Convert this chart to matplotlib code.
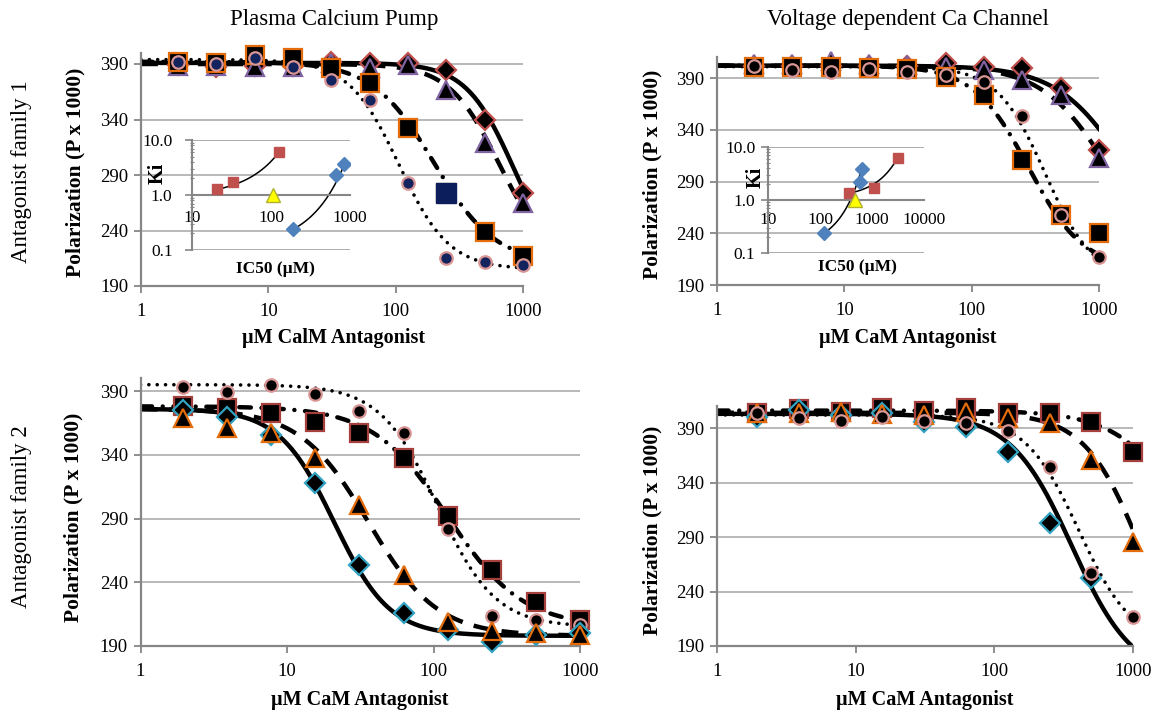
import numpy as np
import matplotlib.pyplot as plt
from matplotlib.ticker import LogLocator, NullFormatter, NullLocator

plt.rcParams['font.family'] = ['Liberation Serif', 'DejaVu Serif']

W, H = 1153, 712

# -------- DATA --------
conc = [1.95, 3.9, 7.8, 15.6, 31.25, 62.5, 125, 250, 500, 1000]

# family 1, plasma calcium pump
pmca1_diamond = [389, 387, 388, 388, 392, 391, 391, 385, 340, 273.5]
pmca1_triangle = [388, 388, 387.5, 387, 391, 386, 389, 367, 319, 265]
pmca1_square = [392, 391, 398, 395, 386, 372.6, 332, 273.6, 239, 217]
pmca1_circle = [392, 390, 395, 387.6, 375.6, 357.6, 282.5, 215, 212, 209]
pmca1_outlier = 7  # index of the odd navy square
# fit curves: top, bottom, IC50, hill slope
pmca1_fits = [(391, 200, 850, 2.3), (390, 210, 650, 2.2),
              (392, 210, 200, 1.8), (394, 205, 106, 2.2)]

# family 1, voltage dependent Ca channel
vdcc1_diamond = [402, 402, 402, 402, 402, 404.8, 401, 400, 380, 320]
vdcc1_triangle = [404, 404, 406, 404, 403, 401, 397.7, 388, 373.6, 312.4]
vdcc1_square = [401, 401, 400.8, 400, 399, 391, 373.6, 310.8, 257.6, 240]
vdcc1_circle = [401.6, 397.7, 396, 399, 396, 393, 386.5, 353, 257.6, 217.3]
vdcc1_fits = [(402, 200, 1686, 1.6), (402, 200, 1213, 1.66),
              (402, 205, 280, 2.0), (401, 195, 377, 2.3)]

# family 2, plasma calcium pump
pmca2_circle = [393.4, 389.5, 394.7, 387.6, 374.6, 357.3, 281.5, 213.5, 210.4, 206.5]
pmca2_square = [378, 376.4, 372.5, 366, 356.8, 337.2, 292, 249.6, 224.2, 210.4]
pmca2_diamond = [375, 370, 355.5, 317.6, 253.5, 215.6, 202.5, 193.4, 198.6, 200]
pmca2_triangle = [368.6, 360.7, 356.8, 337.2, 300.6, 245.7, 209, 201.8, 200, 198.6]
pmca2_fits = [(376, 198, 21, 2.3), (376, 198, 36, 1.85),
              (378, 205, 125, 1.7), (395, 205, 106.6, 2.2)]

# family 2, voltage dependent Ca channel
vdcc2_square = [403.5, 407, 405, 408, 405.9, 408, 404, 404, 395.2, 367.7]
vdcc2_triangle = [404, 404, 405, 403, 402, 405, 399, 394.3, 360.6, 285.7]
vdcc2_diamond = [400.4, 406.5, 402, 403.5, 395.8, 391, 368.3, 302.6, 252]
vdcc2_circle = [404, 399, 396.7, 400.4, 396.7, 394.3, 387.6, 353.9, 257.2, 217]
vdcc2_fits = [(403, 160, 363, 1.97), (404, 150, 1161, 2.1),
              (406, 200, 2660, 1.7), (402, 190, 407, 2.22)]

# insets: Ki vs IC50
ins1_red_x, ins1_red_y = [20.5, 32.7, 126], [1.27, 1.70, 6.0]
ins1_blue_x, ins1_blue_y = [192, 660, 850], [0.24, 2.31, 3.66]
ins1_tri_x, ins1_tri_y = [107], [1.0]
ins1_red_trend = (0.93, 0.0148, 20.5, 126)   # a, b, x from, x to (y = a*exp(b*x))
ins1_blue_trend = (0.108, 0.00414, 192, 800)

ins2_red_x, ins2_red_y = [363, 1100, 3100], [1.34, 1.67, 6.2]
ins2_blue_x, ins2_blue_y = [121, 600, 630], [0.24, 2.22, 3.83]
ins2_tri_x, ins2_tri_y = [470], [1.0]
ins2_red_trend = (1.094, 0.00056, 363, 3100)
ins2_blue_trend = (0.124, 0.00544, 121, 630)

GRID = '#a6a6a6'
AXC = '#868686'


def hill(x, top, bottom, ic50, slope):
    return bottom + (top - bottom) / (1 + (x / ic50) ** slope)


def px_axes(x0, x1, ytop, ybot):
    return fig.add_axes([x0 / W, 1 - ybot / H, (x1 - x0) / W, (ybot - ytop) / H])


def ftext(x, y, s, **kw):
    fig.text(x / W, 1 - y / H, s, ha='center', va='center', **kw)


def setup_main(ax, ytop):
    ax.set_xscale('log')
    ax.set_xlim(1, 1000)
    ax.set_ylim(190, ytop)
    ax.set_yticks([190, 240, 290, 340, 390])
    ax.set_xticks([1, 10, 100, 1000])
    ax.set_xticklabels(['1', '10', '100', '1000'])
    ax.xaxis.set_minor_locator(NullLocator())
    ax.grid(axis='y', color=GRID, lw=1.1)
    ax.set_axisbelow(True)
    for s in ['top', 'right']:
        ax.spines[s].set_visible(False)
    for s in ['left', 'bottom']:
        ax.spines[s].set_color(AXC)
        ax.spines[s].set_linewidth(1.6)
    ax.tick_params(axis='y', colors='black', color=AXC, length=5, width=1.3, labelsize=13.5, pad=4)
    ax.tick_params(axis='x', colors='black', color=AXC, length=5, width=1.3, labelsize=13.5, pad=7)


line_styles = [
    dict(ls='-', lw=3.2),
    dict(ls=(0, (3.8, 2.6)), lw=3.2),
    dict(ls=(0, (2.6, 2.4, 0.01, 2.4)), lw=3.2, dash_capstyle='round'),
    dict(ls=(0, (0.01, 2.3)), lw=2.6, dash_capstyle='round'),
]


def draw_fits(ax, fits):
    xs = np.logspace(0, 3, 300)
    for p, st in zip(fits, line_styles):
        ax.plot(xs, hill(xs, *p), color='black', zorder=2, **st)


def markers(ax, x, y, m, ms, fc, ec, z):
    ax.plot(x, y, ls='none', marker=m, ms=ms, mfc=fc, mec=ec, mew=1.6,
            clip_on=False, zorder=z)


def setup_inset(ax, xmax, xticks, xlabels, ypad, xpad):
    ax.patch.set_visible(False)
    ax.set_xscale('log')
    ax.set_yscale('log')
    ax.set_xlim(10, xmax)
    ax.set_ylim(0.1, 10)
    ax.set_xticks(xticks)
    ax.set_xticklabels(xlabels)
    ax.xaxis.set_minor_locator(NullLocator())
    ax.set_yticks([0.1, 1, 10])
    ax.set_yticklabels(['0.1', '1.0', '10.0'])
    ax.yaxis.set_minor_locator(LogLocator(subs=np.arange(2, 10)))
    ax.yaxis.set_minor_formatter(NullFormatter())
    ax.grid(axis='y', which='major', color=GRID, lw=1.3)
    for s in ['top', 'right']:
        ax.spines[s].set_visible(False)
    ax.spines['bottom'].set_position(('data', 1))
    ax.spines['bottom'].set_color(AXC)
    ax.spines['bottom'].set_linewidth(1.5)
    ax.spines['left'].set_color(AXC)
    ax.spines['left'].set_linewidth(1.5)
    ax.tick_params(axis='x', length=0, labelsize=12.5, pad=xpad)
    ax.tick_params(axis='y', which='major', color=AXC, length=5, width=1.2, labelsize=12.5, pad=ypad)
    ax.tick_params(axis='y', which='minor', color=AXC, length=3, width=0.8, direction='inout')


def inset_points(ax, rx, ry, bx, by, tx, ty, rtr, btr):
    for a, b, x0, x1 in [rtr, btr]:
        xs = np.linspace(x0, x1, 100)
        ax.plot(xs, a * np.exp(b * xs), color='black', lw=1.1, zorder=2)
    ax.plot(rx, ry, ls='none', marker='s', ms=7.5, mfc='#c0504d', mec='#c0504d', zorder=3)
    ax.plot(bx, by, ls='none', marker='D', ms=7, mfc='#4f81bd', mec='#4f81bd', zorder=3)
    ax.plot(tx, ty, ls='none', marker='^', ms=10, mfc='#ffff00', mec='#b0b030', mew=1, zorder=3)


fig = plt.figure(figsize=(W / 100, H / 100), dpi=100)

# -------- TOP LEFT --------
ax1 = px_axes(141, 523, 52.9, 286)
setup_main(ax1, 400)
draw_fits(ax1, pmca1_fits)
markers(ax1, conc, pmca1_diamond, 'D', 10, 'black', '#c0504d', 3)
markers(ax1, conc, pmca1_triangle, '^', 13, 'black', '#8064a2', 4)
markers(ax1, conc, pmca1_square, 's', 12.5, 'black', '#e46c0a', 5)
ax1.plot(conc[pmca1_outlier], pmca1_square[pmca1_outlier], ls='none', marker='s', ms=14,
         mfc='#0c1f5c', mec='#0c1f5c', zorder=5.5)
markers(ax1, conc, pmca1_circle, 'o', 9, '#13235e', '#d99694', 6)

in1 = px_axes(192, 350, 140, 250)
setup_inset(in1, 1000, [10, 100, 1000], ['10', '100', '1000'], 9, 11)
inset_points(in1, ins1_red_x, ins1_red_y, ins1_blue_x, ins1_blue_y,
             ins1_tri_x, ins1_tri_y, ins1_red_trend, ins1_blue_trend)

# -------- TOP RIGHT --------
ax2 = px_axes(717, 1099, 57.3, 285)
setup_main(ax2, 410)
draw_fits(ax2, vdcc1_fits)
markers(ax2, conc, vdcc1_diamond, 'D', 10, 'black', '#c0504d', 3)
markers(ax2, conc, vdcc1_triangle, '^', 13, 'black', '#8064a2', 4)
markers(ax2, conc, vdcc1_square, 's', 12.5, 'black', '#e46c0a', 5)
markers(ax2, conc, vdcc1_circle, 'o', 9, 'black', '#d99694', 6)

in2 = px_axes(768, 924, 147, 253)
setup_inset(in2, 10000, [10, 100, 1000, 10000], ['10', '100', '1000', '10000'], 4, 9)
inset_points(in2, ins2_red_x, ins2_red_y, ins2_blue_x, ins2_blue_y,
             ins2_tri_x, ins2_tri_y, ins2_red_trend, ins2_blue_trend)

# -------- BOTTOM LEFT --------
ax3 = px_axes(140.5, 580, 378.3, 646)
setup_main(ax3, 400)
draw_fits(ax3, pmca2_fits)
markers(ax3, conc, pmca2_square, 's', 12.5, 'black', '#a5403d', 3)
markers(ax3, conc, pmca2_circle, 'o', 9, 'black', '#d99694', 4)
markers(ax3, conc, pmca2_diamond, 'D', 10, 'black', '#31a3c0', 5)
markers(ax3, conc, pmca2_triangle, '^', 13, 'black', '#e46c0a', 6)

# -------- BOTTOM RIGHT --------
ax4 = px_axes(717, 1133, 406.2, 646)
setup_main(ax4, 410)
draw_fits(ax4, vdcc2_fits)
markers(ax4, conc, vdcc2_square, 's', 12.5, 'black', '#a5403d', 3)
markers(ax4, conc[:len(vdcc2_diamond)], vdcc2_diamond, 'D', 10, 'black', '#31a3c0', 4)
markers(ax4, conc, vdcc2_triangle, '^', 13, 'black', '#e46c0a', 5)
markers(ax4, conc, vdcc2_circle, 'o', 9, 'black', '#d99694', 6)

# -------- TEXT --------
ftext(334, 19, 'Plasma Calcium Pump', fontsize=16.5)
ftext(908, 19, 'Voltage dependent Ca Channel', fontsize=16.5)
ftext(22, 172, 'Antagonist family 1', fontsize=16.5, rotation=90)
ftext(22, 517, 'Antagonist family 2', fontsize=16.5, rotation=90)
for x, y in [(75, 172), (652, 174), (73, 517), (652, 530)]:
    ftext(x, y, 'Polarization (P x 1000)', fontsize=15.5, fontweight='bold', rotation=90)
ftext(334, 338, 'µM CalM Antagonist', fontsize=14.5, fontweight='bold')
ftext(908, 338, 'µM CaM Antagonist', fontsize=14.5, fontweight='bold')
ftext(360, 700, 'µM CaM Antagonist', fontsize=14.5, fontweight='bold')
ftext(925, 700, 'µM CaM Antagonist', fontsize=14.5, fontweight='bold')
ftext(158, 173, 'Ki', fontsize=14.5, fontweight='bold', rotation=90)
ftext(756, 177, 'Ki', fontsize=14.5, fontweight='bold', rotation=90)
ftext(275, 269, 'IC50 (µM)', fontsize=12.5, fontweight='bold')
ftext(857, 267, 'IC50 (µM)', fontsize=12.5, fontweight='bold')

fig.savefig('out.png', dpi=100)
